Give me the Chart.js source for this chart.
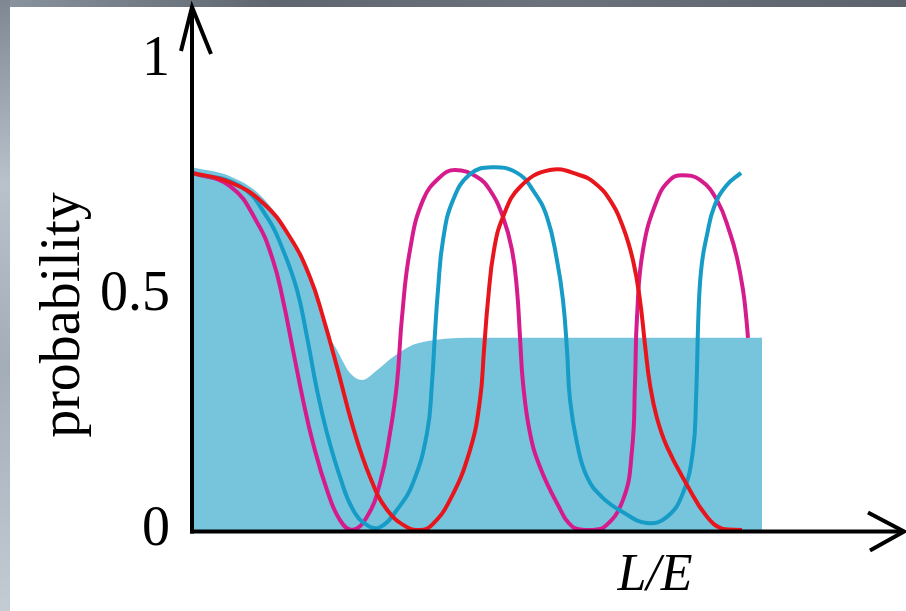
<!DOCTYPE html>
<html>
<head>
<meta charset="utf-8">
<script src="https://cdn.jsdelivr.net/npm/chart.js@4.4.1/dist/chart.umd.min.js"></script>
<style>
  html, body { margin: 0; padding: 0; background: #fff; }
  #frameTop { position: absolute; left: 0; top: 0; width: 906px; height: 7px;
    background: linear-gradient(to right, #8a949f, #5f666f 30%, #6b727b 60%, #5c636c); }
  #frameLeft { position: absolute; left: 0; top: 0; width: 10px; height: 611px;
    background: linear-gradient(to bottom, #7e8893, #b9c2cb 30%, #a3adb8 60%, #c3cbd3); }
  #myChart { position: absolute; left: 0; top: 0; }
</style>
</head>
<body>
<div id="frameTop"></div>
<div id="frameLeft"></div>
<canvas id="myChart" width="906" height="611"></canvas>
<script>
const ctx = document.getElementById('myChart');

// L/E in arbitrary units, probability on y
const yTicks = [0, 0.5, 1];

const redX = [0, 0.76, 1.42, 1.96, 2.36, 2.62, 2.90, 3.22, 3.56, 3.90, 4.30, 4.56, 4.80, 5.16, 5.56, 5.76, 5.84, 5.92, 6.04, 6.22, 6.56, 7.16, 7.76, 8.06, 8.36, 8.62, 8.82, 8.96, 9.06, 9.16, 9.30, 9.50, 9.90, 10.30, 10.62, 11.00];
const redY = [0.760, 0.740, 0.696, 0.623, 0.538, 0.453, 0.347, 0.219, 0.113, 0.043, 0.006, 0.000, 0.011, 0.064, 0.170, 0.277, 0.383, 0.489, 0.596, 0.666, 0.730, 0.766, 0.755, 0.738, 0.702, 0.645, 0.574, 0.489, 0.394, 0.309, 0.238, 0.177, 0.096, 0.028, 0.002, 0.000];

const magentaX = [0, 0.76, 1.30, 1.62, 1.82, 2.02, 2.22, 2.42, 2.70, 2.96, 3.20, 3.50, 3.76, 3.96, 4.10, 4.20, 4.36, 4.62, 4.96, 5.26, 5.70, 5.96, 6.22, 6.40, 6.50, 6.56, 6.62, 6.76, 6.96, 7.30, 7.62, 7.92, 8.22, 8.62, 8.80, 8.86, 8.90, 9.02, 9.30, 9.56, 9.80, 10.16, 10.50, 10.76, 10.90, 11.02, 11.08, 11.12];
const magentaY = [0.760, 0.732, 0.655, 0.574, 0.489, 0.383, 0.277, 0.185, 0.085, 0.021, 0.000, 0.028, 0.100, 0.206, 0.313, 0.453, 0.596, 0.702, 0.751, 0.766, 0.751, 0.723, 0.666, 0.596, 0.511, 0.411, 0.313, 0.206, 0.134, 0.057, 0.006, 0.000, 0.004, 0.064, 0.170, 0.313, 0.453, 0.596, 0.702, 0.745, 0.755, 0.745, 0.702, 0.632, 0.579, 0.511, 0.457, 0.409];

const cyanX = [0, 0.96, 1.50, 1.82, 2.10, 2.30, 2.50, 2.70, 2.96, 3.22, 3.52, 3.76, 4.10, 4.42, 4.70, 4.80, 4.86, 4.92, 5.02, 5.22, 5.56, 6.00, 6.50, 6.82, 7.10, 7.30, 7.42, 7.50, 7.56, 7.70, 7.90, 8.20, 8.62, 9.10, 9.50, 9.82, 10.02, 10.08, 10.14, 10.20, 10.30, 10.44, 10.68, 10.98];
const cyanY = [0.760, 0.732, 0.666, 0.596, 0.511, 0.411, 0.298, 0.206, 0.113, 0.043, 0.009, 0.006, 0.043, 0.100, 0.206, 0.313, 0.419, 0.511, 0.617, 0.702, 0.757, 0.772, 0.760, 0.723, 0.666, 0.574, 0.489, 0.383, 0.277, 0.185, 0.113, 0.070, 0.038, 0.015, 0.028, 0.079, 0.170, 0.277, 0.489, 0.570, 0.628, 0.687, 0.732, 0.760];

const shadeX = [0, 0.76, 1.36, 1.96, 2.36, 2.62, 2.90, 3.16, 3.40, 3.70, 4.02, 4.42, 4.82, 5.76, 11.40];
const shadeY = [0.772, 0.753, 0.713, 0.628, 0.543, 0.440, 0.383, 0.334, 0.319, 0.340, 0.368, 0.394, 0.404, 0.409, 0.409];

const toPoints = (xs, ys) => xs.map((x, i) => ({ x: x, y: ys[i] }));

const curve = (data, color) => ({
    data: data,
    borderColor: color,
    borderWidth: 4,
    pointRadius: 0,
    showLine: true,
    fill: false,
    tension: 0.45
});

const data = {
    datasets: [
        curve(toPoints(redX, redY), 'rgb(232, 22, 28)'),
        curve(toPoints(cyanX, cyanY), 'rgb(22, 156, 198)'),
        curve(toPoints(magentaX, magentaY), 'rgb(214, 28, 140)'),
        {
            data: toPoints(shadeX, shadeY),
            backgroundColor: 'rgb(118, 197, 221)',
            borderWidth: 0,
            pointRadius: 0,
            showLine: true,
            fill: 'origin',
            cubicInterpolationMode: 'monotone'
        }
    ]
};

const axesPlugin = {
    id: 'axesPlugin',
    afterDatasetsDraw(chart) {
        const c = chart.ctx;
        const area = chart.chartArea;
        c.save();
        c.strokeStyle = '#000';
        c.lineWidth = 4;
        c.lineCap = 'butt';
        c.lineJoin = 'miter';
        // y axis
        c.beginPath();
        c.moveTo(area.left, area.bottom + 3.5);
        c.lineTo(area.left, area.top + 2);
        c.stroke();
        c.beginPath();
        c.moveTo(area.left - 11, area.top + 44);
        c.lineTo(area.left, area.top);
        c.lineTo(area.left + 19, area.top + 47);
        c.stroke();
        // x axis
        const y0 = area.bottom + 1.5;
        c.beginPath();
        c.moveTo(area.left - 2, y0);
        c.lineTo(area.right - 3, y0);
        c.stroke();
        c.beginPath();
        c.moveTo(area.right - 38, y0 - 19);
        c.lineTo(area.right - 2, y0);
        c.lineTo(area.right - 36, y0 + 19);
        c.stroke();
        // axis titles
        c.fillStyle = '#000';
        c.font = 'italic 52px "Liberation Serif"';
        c.textAlign = 'center';
        c.textBaseline = 'alphabetic';
        c.fillText('L/E', 655, 590);
        c.translate(64, 315);
        c.rotate(-Math.PI / 2);
        c.font = '56px "Liberation Serif"';
        c.textBaseline = 'middle';
        c.fillText('probability', 0, 0);
        c.restore();
    }
};

const config = {
    type: 'scatter',
    data: data,
    options: {
        responsive: false,
        animation: false,
        layout: { padding: { top: 7, right: 0, bottom: 81, left: 0 } },
        plugins: {
            legend: { display: false },
            tooltip: { enabled: false }
        },
        scales: {
            x: {
                type: 'linear',
                display: false,
                min: 0,
                max: 14.28
            },
            y: {
                type: 'linear',
                min: 0,
                max: 1.113,
                afterFit: (scale) => {
                    scale.width = 192;
                    scale.paddingTop = 0;
                    scale.paddingBottom = 0;
                },
                afterBuildTicks: (scale) => { scale.ticks = yTicks.map(v => ({ value: v })); },
                grid: { display: false, drawTicks: false },
                border: { display: false },
                ticks: {
                    color: '#000',
                    padding: 22,
                    font: { family: 'Liberation Serif', size: 56 },
                    callback: (v) => String(v)
                }
            }
        }
    },
    plugins: [axesPlugin]
};

const chart = new Chart(ctx, config);
</script>
</body>
</html>
